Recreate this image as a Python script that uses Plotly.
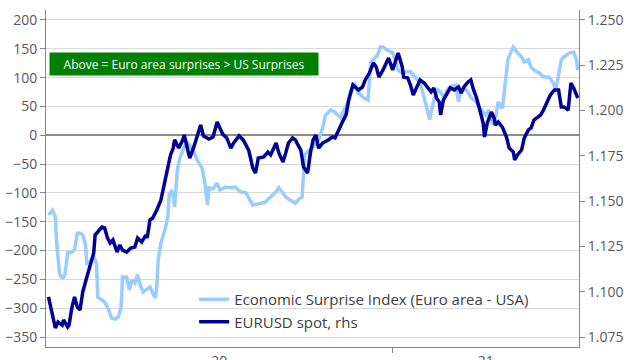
import pandas as pd
import plotly.graph_objects as go

# ---- data (dates given as day offsets from 1 Jan 2021) ----
base_date = "2021-01-01"

esi_days = [-251, -248, -246, -245, -243, -241, -239, -237, -234, -232, -230, -228, -226, -224, -223, -221,
            -218, -216, -215, -212, -210, -207, -205, -202, -200, -198, -197, -194, -192, -190, -188, -186,
            -184, -182, -179, -177, -175, -173, -172, -171, -169, -166, -164, -163, -161, -159, -157, -155,
            -153, -150, -148, -145, -142, -139, -137, -135, -134, -131, -128, -126, -122, -118, -115, -111,
            -107, -104, -102, -96, -93, -89, -85, -83, -80, -78, -75, -71, -69, -66, -65, -64, -61, -58,
            -54, -51, -49, -45, -42, -38, -36, -33, -31, -28, -25, -21, -18, -17, -16, -14, -11, -9, -7, -4,
            0, 2, 4, 7, 10, 13, 15, 18, 20, 23, 26, 27, 28, 30, 33, 35, 37, 40, 42, 46, 48, 50, 52, 55, 57,
            61, 63, 66, 68, 70, 73, 75, 77, 79, 80, 81, 83, 84, 86, 88, 91, 94, 96, 99, 101, 103, 107, 110,
            114, 117, 119, 121, 123, 125, 129, 132, 134, 135]
esi_values = [-138, -130, -142, -187, -239, -249, -242, -204, -203, -199, -170, -170, -173, -190, -222, -220,
              -211, -222, -281, -286, -289, -303, -317, -319, -315, -298, -246, -246, -268, -251, -256, -242,
              -260, -272, -267, -263, -274, -282, -263, -216, -187, -164, -142, -104, -95, -124, -60, -38,
              -26, -12, -17, -29, -46, -57, -81, -121, -91, -93, -83, -95, -90, -91, -90, -98,
              -100, -112, -121, -118, -116, -107, -98, -91, -100, -107, -112, -118, -112, -107, -65, -34, -26, -20,
              -8, 13, 35, 44, 40, 30, 40, 56, 75, 91, 73, 65, 61, 96, 125, 131, 139, 153, 153, 148,
              143, 131, 113, 108, 110, 110, 105, 96, 91, 66, 39, 27, 39, 61, 79, 75, 66, 79, 84, 87, 58, 79, 82, 75, 66,
              58, 49, 40, 35, 44, 18, 30, 58, 49, 47, 65, 113, 131, 143, 153, 143, 136, 127, 131, 118, 113, 108, 101,
              101, 91, 79, 108, 131, 136, 143, 144, 131, 113]

fx_days = [-251, -248, -246, -244, -241, -240, -237, -236, -234, -232, -230, -228, -226, -223, -221, -218,
           -217, -215, -212, -210, -208, -206, -204, -201, -199, -197, -194, -191, -188, -186, -183, -180,
           -179, -177, -175, -172, -169, -167, -164, -162, -160, -159, -156, -153, -152, -150, -148, -145,
           -142, -140, -138, -134, -131, -128, -124, -121, -118, -116, -112, -109, -105, -102, -100, -98,
           -94, -91, -89, -85, -83, -80, -78, -76, -73, -71, -67, -65, -62, -60, -58, -56, -54, -51, -47,
           -44, -42, -39, -37, -34, -32, -29, -27, -25, -22, -20, -17, -16, -14, -12, -10, -7, -5, -3,
           0, 2, 4, 7, 8, 11, 13, 15, 18, 20, 23, 26, 28, 30, 32, 34, 35, 37, 40, 42, 45, 48, 50, 52, 55,
           57, 59, 61, 63, 66, 67, 69, 72, 74, 75, 77, 80, 83, 85, 88, 89, 91, 94, 96, 99, 101, 103, 106,
           108, 110, 113, 115, 118, 121, 123, 125, 128, 130, 132, 135]
fx_values = [1.0971, 1.0861, 1.0800, 1.0833, 1.0816, 1.0844, 1.0805, 1.0816, 1.0910, 1.0971, 1.0916, 1.0899,
             1.0999, 1.1081, 1.1137, 1.1214, 1.1313, 1.1330, 1.1357, 1.1352, 1.1297, 1.1269, 1.1286, 1.1219,
             1.1258, 1.1230, 1.1219, 1.1241, 1.1247, 1.1297, 1.1275, 1.1313, 1.1297, 1.1396, 1.1407, 1.1451,
             1.1506, 1.1578, 1.1672, 1.1755, 1.1793, 1.1838, 1.1793, 1.1838, 1.1865, 1.1799, 1.1738, 1.1799,
             1.1865, 1.1920, 1.1860, 1.1843, 1.1854, 1.1937, 1.1871, 1.1849, 1.1793, 1.1821, 1.1860, 1.1838,
             1.1782, 1.1683, 1.1655, 1.1738, 1.1744, 1.1771, 1.1755, 1.1821, 1.1766, 1.1716, 1.1766, 1.1821,
             1.1849, 1.1838, 1.1782, 1.1689, 1.1655, 1.1766, 1.1838, 1.1865, 1.1793, 1.1821, 1.1838, 1.1854,
             1.1849, 1.1904, 1.1931, 1.1976, 1.2058, 1.2141, 1.2125, 1.2114, 1.2130, 1.2169, 1.2207, 1.2224,
             1.2263, 1.2241, 1.2185, 1.2224, 1.2263, 1.2290, 1.2224, 1.2279, 1.2318, 1.2241, 1.2185, 1.2180,
             1.2141, 1.2086, 1.2130, 1.2169, 1.2152, 1.2125, 1.2103, 1.2125, 1.2069, 1.2047, 1.1976, 1.2058,
             1.2097, 1.2125, 1.2114, 1.2130, 1.2097, 1.2130, 1.2158, 1.2169, 1.2114, 1.2075, 1.2020, 1.1931,
             1.1854, 1.1931, 1.1992, 1.1959, 1.1920, 1.1937, 1.1909, 1.1854, 1.1793, 1.1771, 1.1727, 1.1755,
             1.1782, 1.1849, 1.1893, 1.1904, 1.1948, 1.1965, 1.1976, 1.2003, 1.2047, 1.2086, 1.2114, 1.2114,
             1.2020, 1.2020, 1.2003, 1.2152, 1.2125, 1.2069]

year_labels = ["20", "21"]
left_ticks = [-350, -300, -250, -200, -150, -100, -50, 0, 50, 100, 150, 200]
right_ticks = [1.075, 1.100, 1.125, 1.150, 1.175, 1.200, 1.225, 1.250]
series_names = ["Economic Surprise Index (Euro area - USA)", "EURUSD spot, rhs"]
box_text = "Above = Euro area surprises > US Surprises"

# ---- build ----
base = pd.Timestamp(base_date)
esi_dates = base + pd.to_timedelta(esi_days, unit="D")
fx_dates = base + pd.to_timedelta(fx_days, unit="D")
x_start = base - pd.Timedelta(days=252.8)
x_end = base + pd.Timedelta(days=135.9)
year_mid = [x_start + (base - x_start) / 2, base + (x_end - base) / 2]

FONT = "Open Sans, Noto Sans, sans-serif"
TXT = "#595959"
AX = "#868686"
GRID = "#d9d9d9"

fig = go.Figure()
fig.add_trace(go.Scatter(x=esi_dates, y=esi_values, mode="lines", name=series_names[0],
                         line=dict(color="#99ccff", width=3.5), yaxis="y"))
fig.add_trace(go.Scatter(x=fx_dates, y=fx_values, mode="lines", name=series_names[1],
                         line=dict(color="#000096", width=3.5), yaxis="y2"))

fig.update_layout(
    width=640, height=360,
    margin=dict(l=46, r=61, t=10, b=13, autoexpand=False),
    paper_bgcolor="white", plot_bgcolor="white",
    font=dict(family=FONT, size=14, color=TXT),
    showlegend=True,
    legend=dict(x=0.278, y=0.19, xanchor="left", yanchor="top", bgcolor="rgba(0,0,0,0)",
                font=dict(size=15, color="#404040"), itemwidth=30),
    xaxis=dict(type="date", range=[x_start, x_end], showgrid=False, zeroline=False, automargin=False,
               showline=True, linecolor=AX, linewidth=1,
               tickmode="array", tickvals=year_mid, ticktext=year_labels, ticks="",
               ticklabelstandoff=1,
               minor=dict(tickmode="array", tickvals=[base], ticks="outside", ticklen=5,
                          tickcolor=AX, showgrid=False)),
    yaxis=dict(range=[-367.3, 217.3], tickmode="array", tickvals=left_ticks, automargin=False,
               showgrid=True, gridcolor=GRID, gridwidth=1,
               zeroline=True, zerolinecolor="#8c8c8c", zerolinewidth=1.5,
               showline=True, linecolor=AX, linewidth=1,
               ticks="outside", ticklen=5, tickcolor=AX),
    yaxis2=dict(range=[1.0695, 1.2555], overlaying="y", side="right", anchor="x", automargin=False,
                tickmode="array", tickvals=right_ticks, tickformat=".3f",
                showgrid=False, zeroline=False,
                showline=True, linecolor=AX, linewidth=1,
                ticks="outside", ticklen=5, tickcolor=AX),
    annotations=[dict(text=box_text, xref="paper", yref="paper", x=0.0056, y=0.84,
                      xanchor="left", yanchor="middle", showarrow=False,
                      bgcolor="#008000", font=dict(color="white", size=12, family=FONT),
                      width=260, height=14, borderpad=4, align="center")],
)

fig.write_html("out.html", config={"displayModeBar": False},
               post_script="document.body.style.margin='0';")
